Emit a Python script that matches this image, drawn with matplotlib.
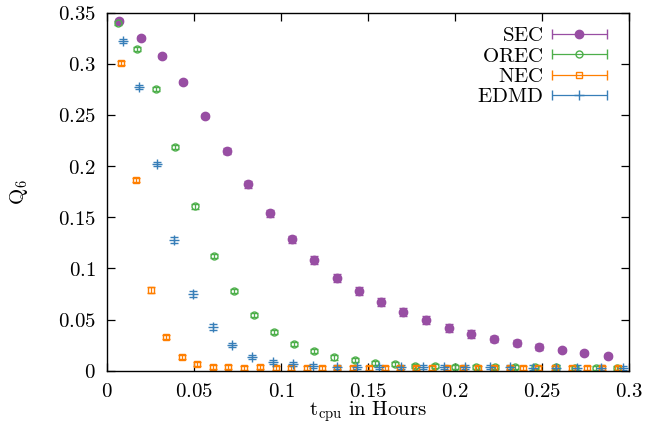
import numpy as np
import matplotlib
matplotlib.use("Agg")
import matplotlib.pyplot as plt
import matplotlib.ticker as ticker
from matplotlib.legend_handler import HandlerErrorbar

plt.rcParams["mathtext.fontset"] = "cm"
plt.rcParams["font.family"] = "DejaVu Serif"

# Q6 order parameter vs. CPU time for the four samplers
sec_t = [0.0071, 0.0194, 0.0316, 0.0439, 0.0563, 0.0688, 0.0812, 0.0939, 0.1063, 0.1190,
         0.1322, 0.1447, 0.1575, 0.1703, 0.1833, 0.1964, 0.2092, 0.2222, 0.2355, 0.2485,
         0.2615, 0.2743, 0.2878]
sec_q = [0.3416, 0.3254, 0.3078, 0.2824, 0.2486, 0.2144, 0.1820, 0.1537, 0.1283, 0.1081,
         0.0908, 0.0781, 0.0674, 0.0574, 0.0496, 0.0418, 0.0362, 0.0310, 0.0271, 0.0235,
         0.0203, 0.0174, 0.0144]
sec_err = [0.002, 0.002, 0.002, 0.002, 0.002, 0.003, 0.003, 0.003, 0.003, 0.004,
           0.004, 0.004, 0.004, 0.004, 0.004, 0.004, 0.004, 0.003, 0.003, 0.003,
           0.002, 0.002, 0.002]

orec_t = [0.0065, 0.0172, 0.0282, 0.0393, 0.0506, 0.0617, 0.0731, 0.0845, 0.0960, 0.1076,
          0.1190, 0.1306, 0.1425, 0.1540, 0.1653, 0.1770, 0.1885, 0.2000, 0.2120, 0.2230,
          0.2345, 0.2460, 0.2580, 0.2690, 0.2810, 0.2930]
orec_q = [0.3396, 0.3140, 0.2749, 0.2183, 0.1605, 0.1123, 0.0782, 0.0544, 0.0381, 0.0261,
          0.0193, 0.0130, 0.0102, 0.0075, 0.0066, 0.0050, 0.0047, 0.0040, 0.0036, 0.0034,
          0.0034, 0.0033, 0.0033, 0.0030, 0.0030, 0.0030]
orec_err = [0.002, 0.002, 0.002, 0.002, 0.002, 0.002, 0.002, 0.002, 0.002, 0.002,
            0.002, 0.002, 0.002, 0.002, 0.002, 0.002, 0.002, 0.002, 0.002, 0.002,
            0.002, 0.002, 0.002, 0.002, 0.002, 0.002]

nec_t = [0.0080, 0.0165, 0.0251, 0.0339, 0.0429, 0.0517, 0.0609, 0.0697, 0.0787, 0.0879,
         0.0970, 0.1057, 0.1148, 0.1234, 0.1322, 0.1414, 0.1506, 0.1598, 0.1684, 0.1776,
         0.1866, 0.1952, 0.2048, 0.2134, 0.2226, 0.2316, 0.2393, 0.2477, 0.2575, 0.2671,
         0.2757, 0.2843, 0.2937]
nec_q = [0.3010, 0.1861, 0.0788, 0.0327, 0.0138, 0.0063, 0.0040, 0.0034, 0.0024, 0.0034,
         0.0027, 0.0024, 0.0030, 0.0026, 0.0029, 0.0031, 0.0027, 0.0030, 0.0026, 0.0028,
         0.0031, 0.0027, 0.0029, 0.0026, 0.0030, 0.0028, 0.0027, 0.0029, 0.0031, 0.0026,
         0.0028, 0.0030, 0.0027]
nec_err = [0.002, 0.002, 0.003, 0.002, 0.002, 0.002, 0.002, 0.002, 0.002, 0.002,
           0.002, 0.002, 0.002, 0.002, 0.002, 0.002, 0.002, 0.002, 0.002, 0.002,
           0.002, 0.002, 0.002, 0.002, 0.002, 0.002, 0.002, 0.002, 0.002, 0.002,
           0.002, 0.002, 0.002]

edmd_t = [0.0090, 0.0186, 0.0286, 0.0387, 0.0496, 0.0607, 0.0720, 0.0835, 0.0954, 0.1071,
          0.1186, 0.1320, 0.1439, 0.1561, 0.1692, 0.1818, 0.1937, 0.2060, 0.2201, 0.2316,
          0.2450, 0.2580, 0.2700, 0.2837, 0.2967]
edmd_q = [0.3218, 0.2769, 0.2018, 0.1276, 0.0749, 0.0424, 0.0252, 0.0132, 0.0083, 0.0065,
          0.0047, 0.0040, 0.0037, 0.0036, 0.0035, 0.0034, 0.0034, 0.0033, 0.0033, 0.0033,
          0.0032, 0.0032, 0.0032, 0.0032, 0.0031]
edmd_err = [0.002, 0.002, 0.002, 0.003, 0.003, 0.003, 0.002, 0.002, 0.002, 0.002,
            0.002, 0.002, 0.002, 0.002, 0.002, 0.002, 0.002, 0.002, 0.002, 0.002,
            0.002, 0.002, 0.002, 0.002, 0.002]

labels = ["SEC", "OREC", "NEC", "EDMD"]
colors = ["#984ea3", "#4daf4a", "#ff7f00", "#377eb8"]

series = [
    (sec_t, sec_q, sec_err, dict(marker="o", ms=6.0, mfc=colors[0], mew=1.0)),
    (orec_t, orec_q, orec_err, dict(marker="o", ms=5.0, mfc="none", mew=1.0)),
    (nec_t, nec_q, nec_err, dict(marker="s", ms=5.0, mfc="none", mew=1.0)),
    (edmd_t, edmd_q, edmd_err, dict(marker="+", ms=6.5, mew=1.0)),
]

FS = 15

fig = plt.figure(figsize=(6.6, 4.24), dpi=100)
ax = fig.add_axes([0.1621, 0.1255, 0.7909, 0.845])

proxies = []
for (t, q, err, style), color in zip(series, colors):
    ax.errorbar(t, q, yerr=err, ls="none", color=color, ecolor=color,
                elinewidth=0.9, capsize=3.0, capthick=0.9, **style)
    # legend sample: horizontal error bar with the point marker in the middle
    proxies.append(ax.errorbar([np.nan], [np.nan], xerr=[1.0], ls="none",
                               color=color, ecolor=color, elinewidth=0.9,
                               capsize=3.5, capthick=0.9, **style))

ax.set_xlim(0, 0.3)
ax.set_ylim(0, 0.35)
ax.xaxis.set_major_locator(ticker.MultipleLocator(0.05))
ax.yaxis.set_major_locator(ticker.MultipleLocator(0.05))
fmt = ticker.FuncFormatter(lambda v, pos: f"${v:g}$")
ax.xaxis.set_major_formatter(fmt)
ax.yaxis.set_major_formatter(fmt)
ax.tick_params(direction="in", length=6, width=0.9, top=True, right=True,
               labelsize=FS, pad=8)
for spine in ax.spines.values():
    spine.set_linewidth(1.0)

ax.set_xlabel(r"$\mathrm{t_{cpu}\ in\ Hours}$", fontsize=FS)
ax.set_ylabel(r"$\mathrm{Q_6}$", fontsize=FS)
ax.xaxis.set_label_coords(0.5, -0.08)
ax.yaxis.set_label_coords(-0.148, 0.5)

hl = 2.66
ax.legend(proxies, [rf"$\mathrm{{{s}}}$" for s in labels], loc="upper right",
          bbox_to_anchor=(0.958, 0.961), frameon=False, markerfirst=False,
          fontsize=FS, handlelength=hl, handletextpad=0.4, labelspacing=0.06,
          borderpad=0, borderaxespad=0, numpoints=1,
          handler_map={type(proxies[0]): HandlerErrorbar(xerr_size=hl / 2, numpoints=1)})

fig.savefig("out.png", dpi=100)
